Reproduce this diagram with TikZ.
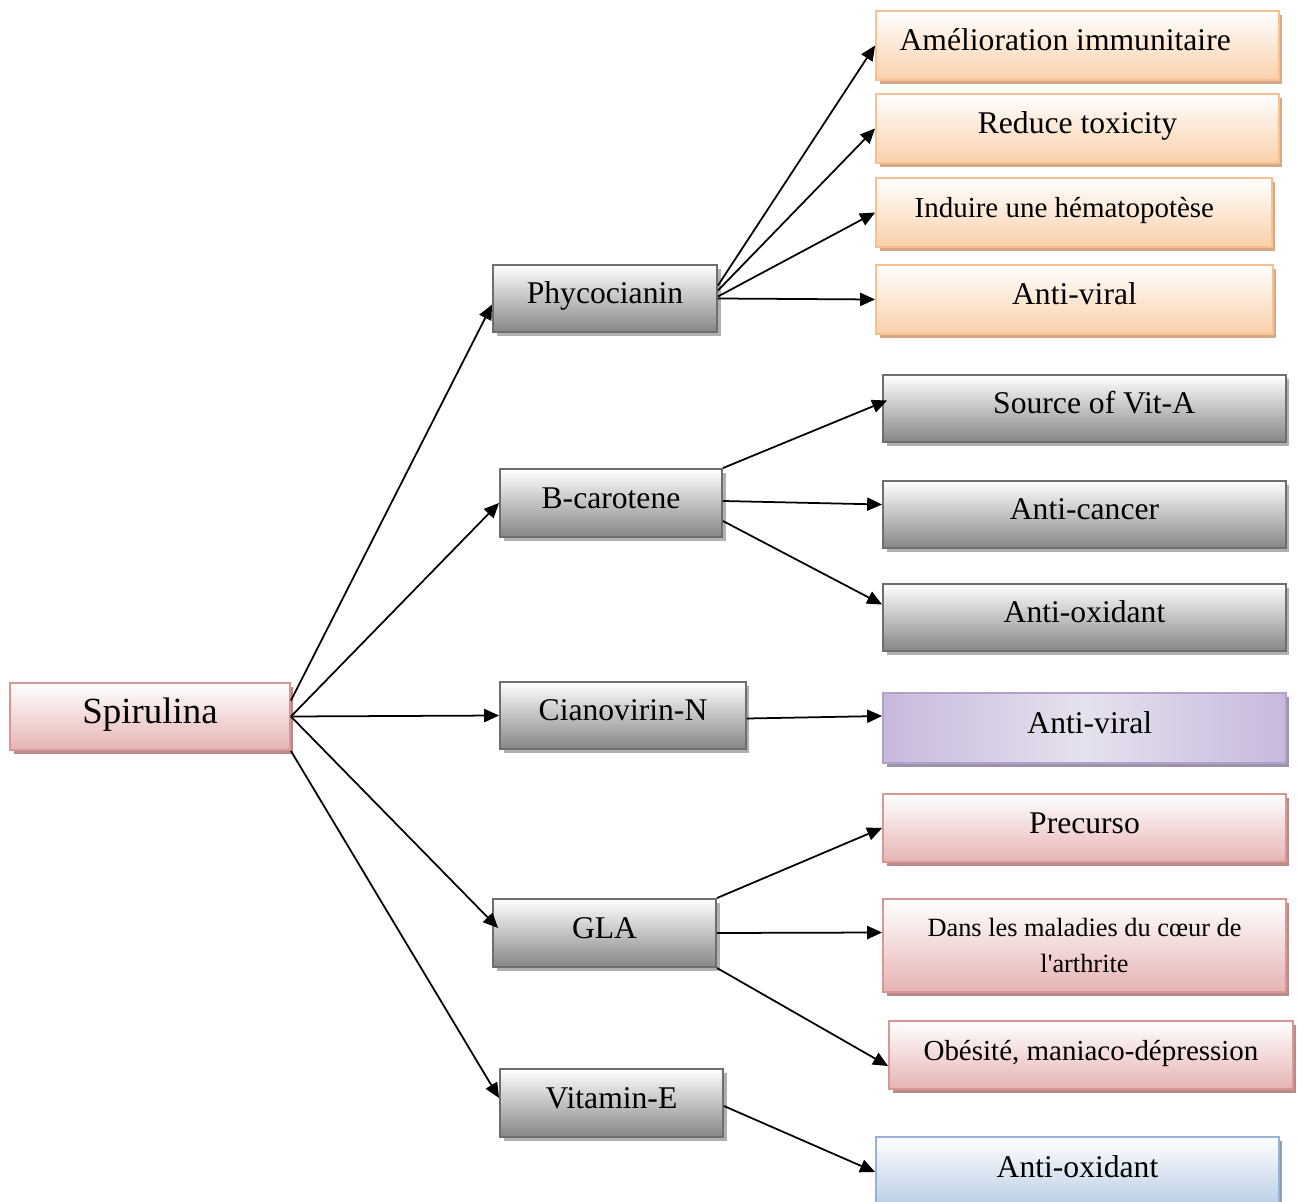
\documentclass[tikz,border=0pt]{standalone}
\usepackage{fontspec}
\setmainfont{Liberation Serif}
\usetikzlibrary{arrows.meta,calc,shadows}

\definecolor{greyline}{HTML}{6E6E6E}
\definecolor{greydark}{HTML}{868686}
\definecolor{greyshade}{HTML}{B0B0B0}
\definecolor{orangeline}{HTML}{FAC090}
\definecolor{orangedark}{HTML}{FAD0AA}
\definecolor{orangeshade}{HTML}{D5A887}
\definecolor{pinkline}{HTML}{D99694}
\definecolor{pinkdark}{HTML}{E6B4B3}
\definecolor{pinkshade}{HTML}{B88A89}
\definecolor{purpline}{HTML}{B3A2C7}
\definecolor{purpdark}{HTML}{C7B9DC}
\definecolor{purplight}{HTML}{E6E1EE}
\definecolor{purpshade}{HTML}{9E93AD}
\definecolor{blueline}{HTML}{95B3D7}
\definecolor{bluedark}{HTML}{B9CDE5}
\definecolor{blueshade}{HTML}{8E9DB0}

\begin{document}
\begin{tikzpicture}[x=0.02cm, y=-0.02cm,
    box/.style={rectangle, line width=1.1pt, align=center, inner sep=2pt,
        text height=0.8em, text depth=0.2em,
        font=\fontsize{18}{22}\selectfont},
    greybox/.style={box, draw=greyline, top color=white, bottom color=greydark,
        general shadow={shadow xshift=2pt, shadow yshift=-2pt, fill=greyshade}},
    orangebox/.style={box, draw=orangeline, top color=white, bottom color=orangedark,
        general shadow={shadow xshift=2pt, shadow yshift=-2pt, fill=orangeshade}},
    pinkbox/.style={box, draw=pinkline, top color=white, bottom color=pinkdark,
        general shadow={shadow xshift=2pt, shadow yshift=-2pt, fill=pinkshade}},
    purpbox/.style={box, draw=purpline, left color=purpdark, right color=purpdark,
        middle color=purplight,
        general shadow={shadow xshift=2pt, shadow yshift=-2pt, fill=purpshade}},
    bluebox/.style={box, draw=blueline, top color=white, bottom color=bluedark,
        general shadow={shadow xshift=2pt, shadow yshift=-2pt, fill=blueshade}},
    link/.style={-{Triangle[length=8.5pt,width=7.5pt]}, line width=1pt}]
    \useasboundingbox (0,0) rectangle (1298,1202);

    % root
    \node (spir) [pinkbox, minimum width=5.6cm, minimum height=1.34cm, text depth=0.02em,
        font=\fontsize{21}{25}\selectfont] at (150,716.5) {Spirulina};

    % components
    \node (phy) [greybox, minimum width=4.48cm, minimum height=1.34cm] at (605,298.5) {Phycocianin};
    \node (bcar) [greybox, minimum width=4.44cm, minimum height=1.36cm] at (611,503) {B-carotene};
    \node (cian) [greybox, minimum width=4.92cm, minimum height=1.34cm] at (623,715.5) {Cianovirin-N};
    \node (gla) [greybox, minimum width=4.46cm, minimum height=1.36cm] at (604.5,933) {GLA};
    \node (vitE) [greybox, minimum width=4.46cm, minimum height=1.36cm] at (611.5,1103) {Vitamin-E};

    % effects
    \node (ame) [orangebox, minimum width=8.06cm, minimum height=1.38cm] at (1077.5,45.5) {Amélioration immunitaire\hspace*{14pt}};
    \node (red) [orangebox, minimum width=8.06cm, minimum height=1.38cm] at (1077.5,128.5) {Reduce toxicity};
    \node (ind) [orangebox, minimum width=7.92cm, minimum height=1.38cm,
        font=\fontsize{16.5}{20}\selectfont] at (1074,212.5) {Induire une hématopotèse\hspace*{11pt}};
    \node (av1) [orangebox, minimum width=7.94cm, minimum height=1.38cm] at (1074.5,299.5) {Anti-viral};

    \node (srcA) [greybox, minimum width=8.06cm, minimum height=1.34cm] at (1084.5,408.5) {\hspace*{11pt}Source of Vit-A};
    \node (canc) [greybox, minimum width=8.06cm, minimum height=1.34cm] at (1084.5,514.5) {Anti-cancer};
    \node (oxi) [greybox, minimum width=8.06cm, minimum height=1.34cm] at (1084.5,617.5) {Anti-oxidant};

    \node (av2) [purpbox, minimum width=8.06cm, minimum height=1.4cm] at (1084.5,728) {\hspace*{6pt}Anti-viral};

    \node (prec) [pinkbox, minimum width=8.06cm, minimum height=1.36cm] at (1084.5,828) {Precurso};
    \node (dans) [pinkbox, minimum width=8.06cm, minimum height=1.86cm,
        text height={}, text depth={},
        font=\fontsize{15}{21}\selectfont] at (1084.5,945.5) {Dans les maladies du cœur de\\l\textquotesingle arthrite};
    \node (obe) [pinkbox, minimum width=8.08cm, minimum height=1.36cm,
        font=\fontsize{16.5}{20}\selectfont] at (1091,1055) {Obésité, maniaco-dépression};

    \node (oxi2) [bluebox, minimum width=8.06cm, minimum height=1.4cm] at (1077.5,1172) {Anti-oxidant};

    % arrows
    \draw[link] ($(spir.east)+(0,-16)$) -- ($(phy.west)+(0,6)$);
    \draw[link] (spir.east) -- (bcar.west);
    \draw[link] (spir.east) -- (cian.west);
    \draw[link] (spir.east) -- ($(gla.west)+(6,-5)$);
    \draw[link] (spir.south east) -- ($(vitE.west)+(0,-5)$);

    \draw[link] ($(phy.east)+(0,-13)$) -- (ame.west);
    \draw[link] ($(phy.east)+(0,-8)$) -- (red.west);
    \draw[link] ($(phy.east)+(0,-2)$) -- (ind.west);
    \draw[link] (phy.east) -- (av1.west);

    \draw[link] (bcar.north east) -- ($(srcA.west)+(5,-8)$);
    \draw[link] ($(bcar.east)+(0,-2)$) -- ($(canc.west)+(0,-10)$);
    \draw[link] ($(bcar.east)+(0,18)$) -- ($(oxi.west)+(0,-13)$);

    \draw[link] ($(cian.east)+(0,3)$) -- ($(av2.west)+(0,-12)$);

    \draw[link] (gla.north east) -- (prec.west);
    \draw[link] (gla.east) -- ($(dans.west)+(0,-13)$);
    \draw[link] (gla.south east) -- ($(obe.west)+(0,11)$);

    \draw[link] ($(vitE.east)+(0,3)$) -- (oxi2.west);
\end{tikzpicture}
\end{document}
